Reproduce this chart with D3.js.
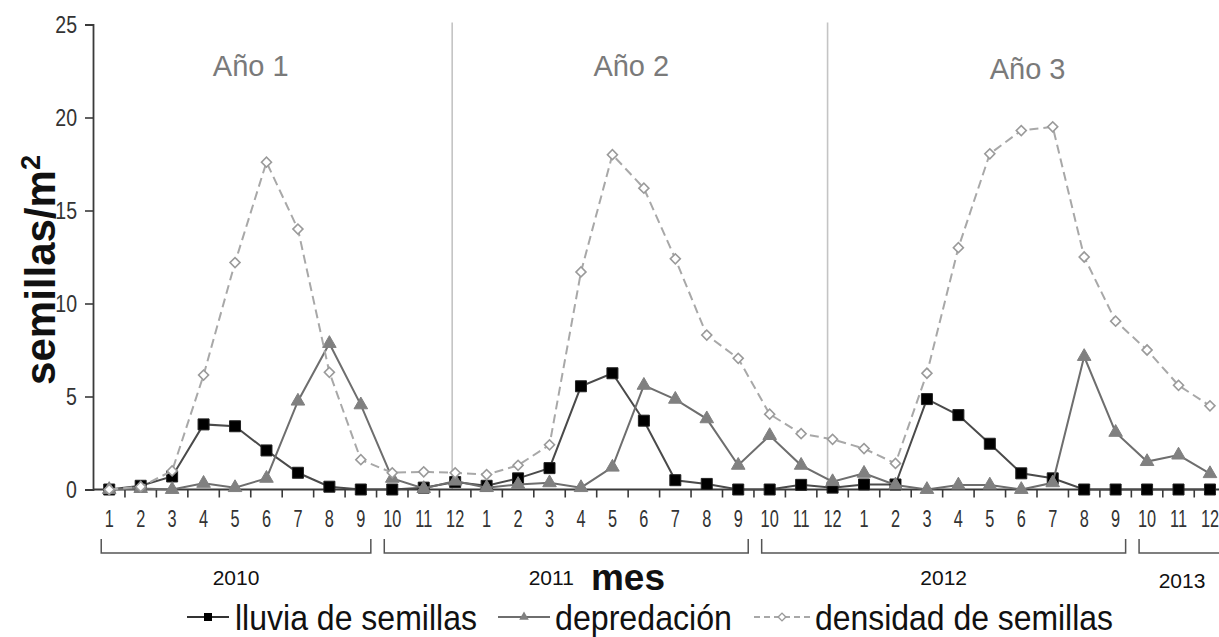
<!DOCTYPE html>
<html><head><meta charset="utf-8">
<script src="https://cdn.jsdelivr.net/npm/d3@7"></script>
<style>body{margin:0;background:#fff}svg{display:block}</style>
</head><body><svg id="c" width="1219" height="637"></svg>
<script>
const monthLabels = ["1","2","3","4","5","6","7","8","9","10","11","12",
                     "1","2","3","4","5","6","7","8","9","10","11","12",
                     "1","2","3","4","5","6","7","8","9","10","11","12"];
const lluvia = [0,0.2,0.7,3.5,3.4,2.1,0.9,0.15,0,0,0.1,0.4,
                0.2,0.6,1.15,5.55,6.25,3.7,0.5,0.3,0,0,0.25,0.1,
                0.27,0.27,4.86,4.0,2.46,0.87,0.6,0,0,0,0,0];
const depredacion = [0,0.05,0,0.33,0.1,0.6,4.75,7.85,4.55,0.6,0.05,0.45,
                     0.1,0.27,0.36,0.1,1.2,5.6,4.85,3.8,1.3,2.9,1.3,0.42,
                     0.87,0.24,0,0.24,0.24,0,0.36,7.15,3.07,1.5,1.85,0.85];
const densidad = [0,0.15,1.0,6.15,12.2,17.6,14.0,6.3,1.6,0.9,0.95,0.9,
                  0.8,1.3,2.4,11.7,18.0,16.2,12.4,8.3,7.05,4.05,3.0,2.7,
                  2.2,1.4,6.25,13.0,18.05,19.3,19.5,12.5,9.05,7.5,5.6,4.5];
const yTicks = [0,5,10,15,20,25];
const yearNames = ["2010","2011","2012","2013"];
const yearStart = [0,9,21,33];
const yearEnd = [8,20,32,35];
const periodNames = ["Año 1","Año 2","Año 3"];
const periodCenter = [4.5,16.6,29.2];
const periodDividers = [11,23];
const seriesNames = ["lluvia de semillas","depredación","densidad de semillas"];

const svg = d3.select("#c");
svg.append("rect").attr("width",1219).attr("height",637).attr("fill","#fff");
const FONT = "'Liberation Sans', Arial, sans-serif";

const x = d3.scaleBand().domain(d3.range(36)).range([93.5, 1225.7]);
const bw = x.bandwidth();
const cx = i => x(i) + bw/2;
const xf = v => x(0) + bw*(v+0.5);
const y = d3.scaleLinear().domain([0,25]).range([489.5,24.5]);

// period dividers
svg.selectAll("line.div").data(periodDividers).join("line")
  .attr("x1", (d,k)=>cx(d)-3-2*k).attr("x2",(d,k)=>cx(d)-3-2*k)
  .attr("y1", y(25)-2).attr("y2", y(0))
  .attr("stroke","#c4c4c4").attr("stroke-width",1.6);

// period labels
svg.selectAll("text.per").data(periodNames).join("text")
  .attr("x",(d,i)=>xf(periodCenter[i])).attr("y",(d,i)=> i===2?79:76)
  .attr("text-anchor","middle").attr("font-family",FONT).attr("font-size",29)
  .attr("fill","#7a7a7a").text(d=>d);

// y axis
const yAxis = svg.append("g").attr("transform",`translate(${x(0)-0.5},0)`)
  .call(d3.axisLeft(y).tickValues(yTicks).tickSize(8).tickPadding(8));
yAxis.select(".domain").attr("stroke","#3a3a3a").attr("stroke-width",1.8);
yAxis.selectAll(".tick line").attr("stroke","#3a3a3a").attr("stroke-width",1.6);
yAxis.selectAll(".tick text").attr("font-family",FONT).attr("font-size",23)
  .attr("fill","#333").attr("x",-16/0.85).attr("dy","0.36em")
  .attr("transform","scale(0.85,1)");

// x axis
const xAxis = svg.append("g").attr("transform",`translate(0,${y(0)})`)
  .call(d3.axisBottom(x).tickSize(0).tickFormat(i=>monthLabels[i]));
xAxis.select(".domain").attr("d",`M${x(0)-0.5},0H1219`).attr("stroke","#3a3a3a").attr("stroke-width",2);
xAxis.selectAll(".tick text").attr("font-family",FONT).attr("font-size",24)
  .attr("fill","#333").attr("y",38).attr("dy",0)
  .attr("transform","scale(0.68,1)");
xAxis.selectAll("line.bt").data(d3.range(1,36)).join("line")
  .attr("class","bt").attr("x1",d=>x(d)).attr("x2",d=>x(d))
  .attr("y1",0).attr("y2",8).attr("stroke","#3a3a3a").attr("stroke-width",1.6);

// year brackets
const br = svg.append("g");
yearNames.forEach((nm,k)=>{
  const a = cx(yearStart[k]) - 8, b = cx(yearEnd[k]) + 10;
  br.append("path").attr("d",`M${a},539V553H${b}V539`)
    .attr("fill","none").attr("stroke","#555").attr("stroke-width",1.5);
  let tx = (a+b)/2, ty = 585;
  if (k===1) tx = (a+b)/2 - 15;
  if (k===3) { tx = 1182; ty = 588; }
  br.append("text").attr("x",tx).attr("y",ty).attr("text-anchor","middle")
    .attr("font-family",FONT).attr("font-size",21).attr("fill","#111").text(nm);
});

// axis titles
svg.append("text").attr("x",628).attr("y",590).attr("text-anchor","middle")
  .attr("font-family",FONT).attr("font-weight","bold").attr("font-size",37)
  .attr("fill","#111").text("mes");
const yt = svg.append("text").attr("transform","translate(55,270) rotate(-90)")
  .attr("text-anchor","middle").attr("font-family",FONT).attr("font-weight","bold")
  .attr("font-size",42).attr("fill","#111");
yt.append("tspan").text("semillas/m");
yt.append("tspan").attr("font-size",27).attr("dy",-15).text("2");

// series
const line = d3.line().x((d,i)=>cx(i)).y(d=>y(d));
const gL = svg.append("g");
gL.append("path").datum(lluvia).attr("d",line).attr("fill","none").attr("stroke","#4a4a4a").attr("stroke-width",2);
gL.selectAll("path.m").data(lluvia).join("path").attr("class","m")
  .attr("d",d3.symbol(d3.symbolSquare,121)()).attr("transform",(d,i)=>`translate(${cx(i)},${y(d)})`)
  .attr("fill","#000").attr("stroke","#222").attr("stroke-width",1);

const gD = svg.append("g");
gD.append("path").datum(depredacion).attr("d",line).attr("fill","none").attr("stroke","#6e6e6e").attr("stroke-width",2);
gD.selectAll("path.m").data(depredacion).join("path").attr("class","m")
  .attr("d",d3.symbol(d3.symbolTriangle,80)()).attr("transform",(d,i)=>`translate(${cx(i)},${y(d)})`)
  .attr("fill","#808080").attr("stroke","#808080").attr("stroke-width",1);

const gS = svg.append("g");
gS.append("path").datum(densidad).attr("d",line).attr("fill","none").attr("stroke","#a8a8a8")
  .attr("stroke-width",2).attr("stroke-dasharray","9,5");
gS.selectAll("path.m").data(densidad).join("path").attr("class","m")
  .attr("d",d3.symbol(d3.symbolSquare,50)()).attr("transform",(d,i)=>`translate(${cx(i)},${y(d)}) rotate(45)`)
  .attr("fill","#fff").attr("stroke","#9a9a9a").attr("stroke-width",1.6);

// legend
const lg = svg.append("g");
const legX = [187, 498, 754];
const legTextW = [242, 177, 298];
const ly = 617;
lg.append("line").attr("x1",legX[0]).attr("x2",legX[0]+42).attr("y1",ly).attr("y2",ly).attr("stroke","#333").attr("stroke-width",2);
lg.append("path").attr("d",d3.symbol(d3.symbolSquare,64)()).attr("transform",`translate(${legX[0]+21},${ly})`).attr("fill","#000");
lg.append("line").attr("x1",legX[1]).attr("x2",legX[1]+52).attr("y1",ly).attr("y2",ly).attr("stroke","#6e6e6e").attr("stroke-width",2);
lg.append("path").attr("d",d3.symbol(d3.symbolTriangle,40)()).attr("transform",`translate(${legX[1]+26},${ly})`).attr("fill","#808080");
lg.append("line").attr("x1",legX[2]).attr("x2",legX[2]+56).attr("y1",ly).attr("y2",ly).attr("stroke","#a8a8a8").attr("stroke-width",2).attr("stroke-dasharray","6,4");
lg.append("path").attr("d",d3.symbol(d3.symbolSquare,30)()).attr("transform",`translate(${legX[2]+28},${ly}) rotate(45)`).attr("fill","#fff").attr("stroke","#9a9a9a").attr("stroke-width",1.4);
const legTx = [legX[0]+48, legX[1]+57, legX[2]+61];
seriesNames.forEach((nm,k)=>{
  lg.append("text").attr("x",legTx[k]).attr("y",630).attr("font-family",FONT).attr("font-size",35)
    .attr("fill","#111").attr("textLength",legTextW[k]).attr("lengthAdjust","spacingAndGlyphs").text(nm);
});
</script></body></html>
